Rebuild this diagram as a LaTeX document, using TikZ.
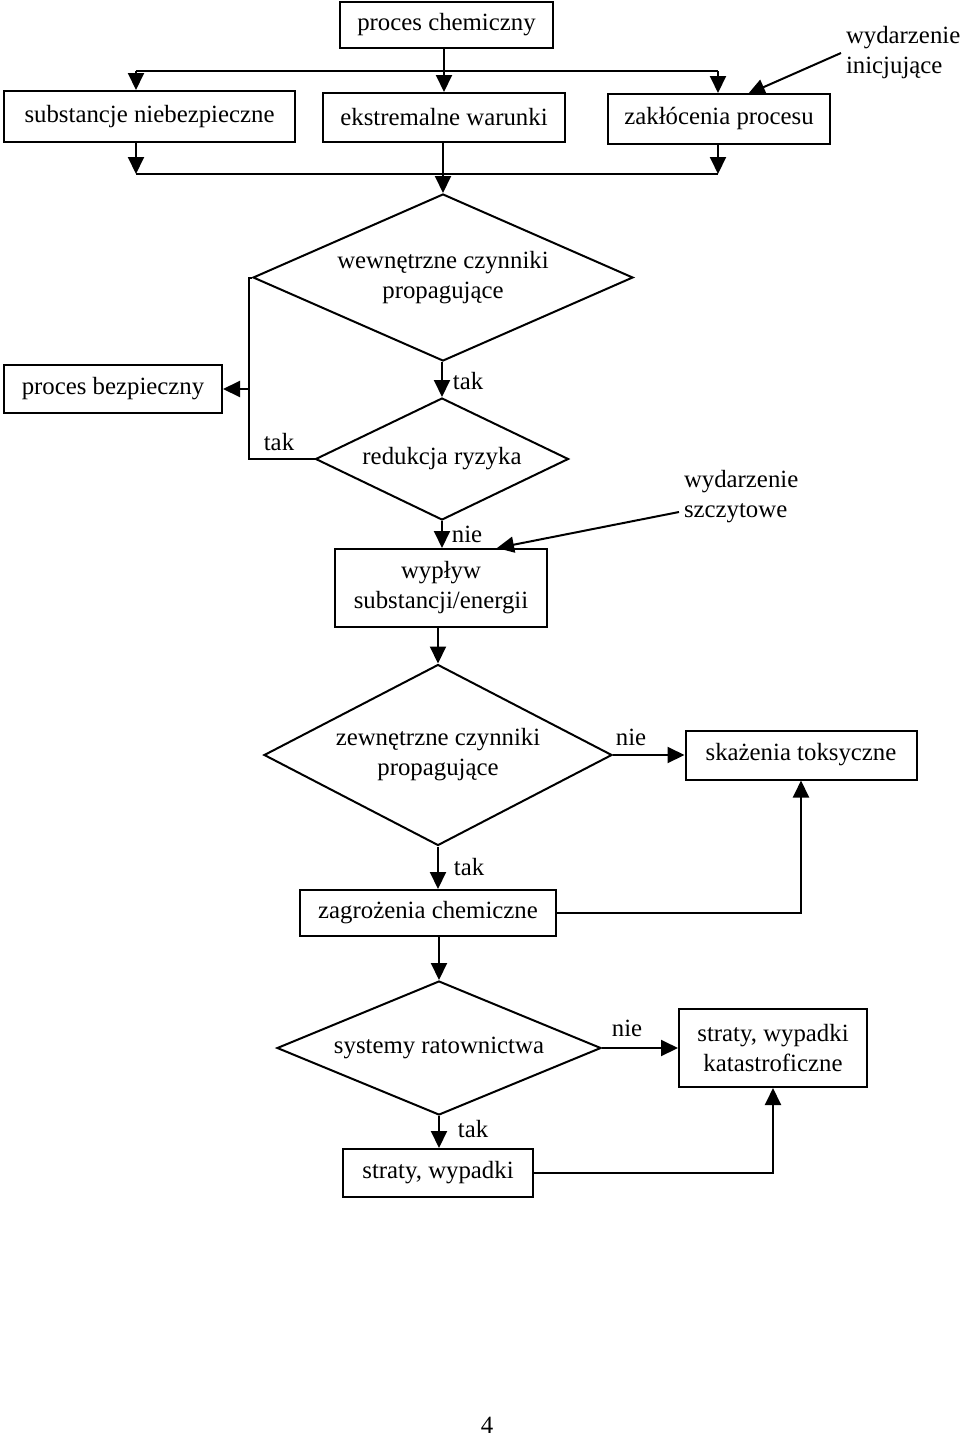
\documentclass[tikz,border=0pt]{standalone}
\usepackage{fontspec}
\setmainfont{Liberation Serif}
\usetikzlibrary{shapes.geometric,arrows.meta}
\tikzset{
  box/.style={draw,line width=1pt,inner sep=0pt,align=center},
  decision/.style={draw,diamond,aspect=2.4,line width=1pt,inner sep=0pt,align=center},
  arr/.style={-{Triangle[length=8.5pt,width=8pt]},line width=1pt},
  note/.style={align=left,anchor=west,inner sep=2pt},
}
\begin{document}
\begin{tikzpicture}[x=0.5pt,y=-0.5pt,line width=1pt,font=\fontsize{12.4}{15}\selectfont]
  \useasboundingbox (0,0) rectangle (960,1440);
  \node[box,minimum width=106.5pt,minimum height=23pt] (chem) at (446.5,25) {proces chemiczny};
  \node[box,minimum width=145.5pt,minimum height=25.5pt] (subst) at (149.5,116.5) {substancje niebezpieczne};
  \node[box,minimum width=121pt,minimum height=24.5pt] (ekstr) at (444,117.5) {ekstremalne warunki};
  \node[box,minimum width=111pt,minimum height=25pt] (zakl) at (719,119) {zakłócenia procesu};
  \node[note] (winic) at (841,53) {wydarzenie\\inicjujące};
  \node[decision,minimum width=190pt,minimum height=83.5pt] (wewn) at (443,277.5) {wewnętrzne czynniki\\propagujące};
  \node[box,minimum width=109pt,minimum height=24pt] (bezp) at (113,389) {proces bezpieczny};
  \node[decision,minimum width=126.5pt,minimum height=61pt] (red) at (442,459) {redukcja ryzyka};
  \node[box,minimum width=106pt,minimum height=39pt] (wyplyw) at (441,588) {wypływ\\substancji/energii};
  \node[note] (wszczyt) at (679,497) {wydarzenie\\szczytowe};
  \node[decision,minimum width=174pt,minimum height=90.5pt] (zewn) at (438,755) {zewnętrzne czynniki\\propagujące};
  \node[box,minimum width=115.5pt,minimum height=24.5pt] (skaz) at (801,755) {skażenia toksyczne};
  \node[box,minimum width=128pt,minimum height=23pt] (zagr) at (428,913) {zagrożenia chemiczne};
  \node[decision,minimum width=162pt,minimum height=67pt] (sys) at (439,1048) {systemy ratownictwa};
  \node[box,minimum width=94pt,minimum height=39pt] (katastr) at (773,1048) {straty, wypadki\\katastroficzne};
  \node[box,minimum width=95pt,minimum height=24pt] (straty) at (438,1173) {straty, wypadki};

  \node (tak1) at (468,381) {tak};
  \node (tak2) at (279,442) {tak};
  \node (nie1) at (467,534) {nie};
  \node (nie2) at (631,737) {nie};
  \node (tak3) at (469,867) {tak};
  \node (nie3) at (627,1028) {nie};
  \node (tak4) at (473,1129) {tak};
  \node (page) at (487,1425) {4};

  \coordinate (tl) at (136,71);
  \coordinate (tr) at (718,71);
  \coordinate (bl) at (136,174);
  \coordinate (br) at (718,174);
  \coordinate (lx) at (249,277.5);
  \coordinate (zi) at (748,94);
  \coordinate (wsz) at (679,512);
  \coordinate (ws) at (497,548);

  \draw (tl) -- (tr);
  \draw[arr] (tl) -- (tl |- subst.north);
  \draw[arr] (ekstr.north |- chem.south) -- (ekstr.north);
  \draw[arr] (tr) -- (tr |- zakl.north);
  \draw[arr] (winic.west) -- (zi);
  \draw (bl) -- (br);
  \draw[arr] (bl |- subst.south) -- (bl);
  \draw[arr] (br |- zakl.south) -- (br);
  \draw[arr] (wewn.north |- ekstr.south) -- (wewn.north);
  \draw (wewn.west) -- (lx) -- (lx |- red.west) -- (red.west);
  \draw[arr] (lx |- bezp.east) -- (bezp.east);
  \draw[arr] (red.north |- wewn.south) -- (red.north);
  \draw[arr] (red.south) -- (red.south |- wyplyw.north);
  \draw[arr] (wsz) -- (ws);
  \draw[arr] (zewn.north |- wyplyw.south) -- (zewn.north);
  \draw[arr] (zewn.east) -- (skaz.west);
  \draw[arr] (zewn.south) -- (zewn.south |- zagr.north);
  \draw[arr] (zagr.east) -| (skaz.south);
  \draw[arr] (sys.north |- zagr.south) -- (sys.north);
  \draw[arr] (sys.east) -- (katastr.west);
  \draw[arr] (sys.south) -- (sys.south |- straty.north);
  \draw[arr] (straty.east) -| (katastr.south);
\end{tikzpicture}
\end{document}
